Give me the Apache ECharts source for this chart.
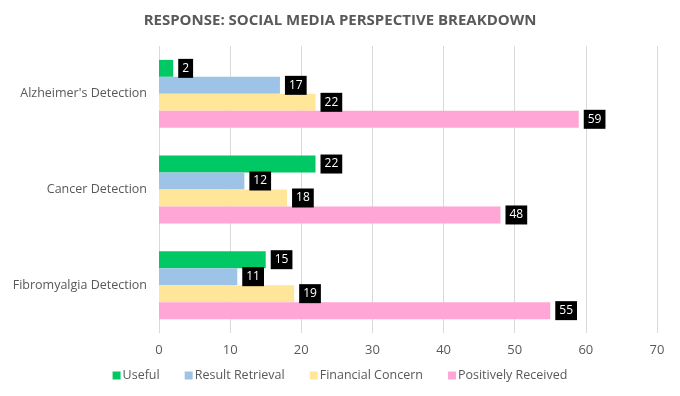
<!DOCTYPE html>
<html>
<head>
<meta charset="utf-8">
<script src="https://cdn.jsdelivr.net/npm/echarts@6/dist/echarts.min.js"></script>
<style>
html, body { margin: 0; padding: 0; background: #fff; }
#mychart { width: 680px; height: 396px; }
</style>
</head>
<body>
<div id="mychart"></div>
<script>
"use strict";
const categories = ["Alzheimer's Detection", 'Cancer Detection', 'Fibromyalgia Detection'];
const seriesNames = ['Useful', 'Result Retrieval', 'Financial Concern', 'Positively Received'];
const useful = [2, 22, 15];
const resultRetrieval = [17, 12, 11];
const financialConcern = [22, 18, 19];
const positivelyReceived = [59, 48, 55];
const colors = ['#00c864', '#9dc3e6', '#ffe699', '#ffa6d6'];

const font = 'Open Sans';
const allValues = [useful, resultRetrieval, financialConcern, positivelyReceived];

const myChart = echarts.init(document.getElementById('mychart'));
const option = {
    animation: false,
    textStyle: { fontFamily: font },
    title: {
        text: 'RESPONSE: SOCIAL MEDIA PERSPECTIVE BREAKDOWN',
        left: 'center',
        top: 8,
        textStyle: { fontSize: 15, fontWeight: 'bold', color: '#595959', fontFamily: font }
    },
    legend: {
        bottom: 9,
        left: 'center',
        itemWidth: 8,
        itemHeight: 8,
        itemGap: 25,
        icon: 'rect',
        textStyle: { fontSize: 12.5, color: '#595959', fontFamily: font, padding: [0, 0, 0, -3] },
        data: seriesNames
    },
    grid: { left: 159, right: 23, top: 46, bottom: 63 },
    xAxis: {
        type: 'value',
        min: 0,
        max: 70,
        interval: 10,
        axisLine: { show: false },
        axisTick: { show: false },
        axisLabel: { fontSize: 13, color: '#595959', margin: 11 },
        splitLine: { lineStyle: { color: '#d9d9d9', width: 1 } }
    },
    yAxis: {
        type: 'category',
        inverse: true,
        data: categories,
        axisLine: { show: false },
        axisTick: { show: false },
        axisLabel: { fontSize: 12.5, color: '#595959', margin: 12 }
    },
    series: seriesNames.map((name, i) => ({
        name,
        type: 'bar',
        data: allValues[i],
        barGap: '0%',
        barCategoryGap: '29%',
        itemStyle: { color: colors[i] },
        label: {
            show: true,
            position: 'right',
            distance: 5,
            color: '#fff',
            backgroundColor: '#000',
            padding: [4, 4, 3, 4],
            fontSize: 12,
            fontFamily: font
        }
    }))
};
myChart.setOption(option);
</script>
</body>
</html>
